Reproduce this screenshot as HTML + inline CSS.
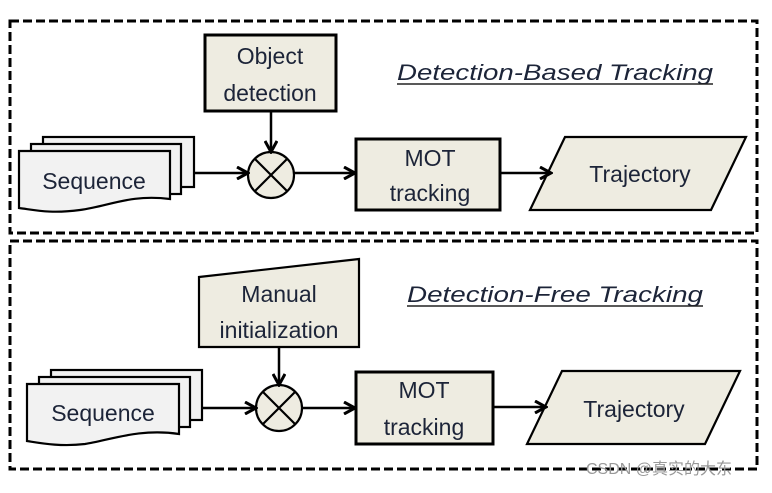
<!DOCTYPE html>
<html><head><style>
body{margin:0;background:#fff;width:772px;height:488px;overflow:hidden}
text{font-family:"Liberation Sans",sans-serif;fill:#1c2438}
</style></head><body>
<svg width="772" height="488" viewBox="0 0 772 488" xmlns="http://www.w3.org/2000/svg">
<defs>
<marker id="a" markerWidth="14" markerHeight="14" refX="11" refY="7" orient="auto" markerUnits="userSpaceOnUse">
<path d="M1,1 L12,7 L1,13" fill="none" stroke="#000" stroke-width="3"/>
</marker>
</defs>
<g fill="none" stroke="#000" stroke-width="3" stroke-dasharray="9,4">
<rect x="10" y="21" width="747" height="212"/>
<rect x="10" y="241" width="747" height="228"/>
</g>
<g stroke="#000" stroke-width="2.2">
<rect x="43" y="137" width="151" height="50" fill="#f2f2f2"/>
<rect x="31" y="144" width="150" height="50" fill="#f2f2f2"/>
<path d="M19,151 H170 V199 C130,194 110,206 80,210 C50,214 35,210 19,208 Z" fill="#f2f2f2"/>
<rect x="51" y="370" width="151" height="50" fill="#f2f2f2"/>
<rect x="39" y="377" width="151" height="50" fill="#f2f2f2"/>
<path d="M27,384 H179 V434 C140,428 110,440 85,444 C60,447 40,443 27,441 Z" fill="#f2f2f2"/>
<rect x="205" y="35" width="131" height="76" fill="#eeece1" stroke-width="3"/>
<rect x="356" y="139" width="144" height="71" fill="#eeece1" stroke-width="3"/>
<rect x="356" y="372" width="137" height="72" fill="#eeece1" stroke-width="3"/>
<path d="M199,277 L359,259 L359,347 L199,347 Z" fill="#eeece1"/>
<path d="M565,137 L746,137 L711,210 L530,210 Z" fill="#eeece1"/>
<path d="M562,371 L740,371 L705,444 L527,444 Z" fill="#eeece1"/>
<circle cx="271" cy="175" r="23" fill="#eeece1"/>
<path d="M255,159 L287,191 M287,159 L255,191"/>
<circle cx="279" cy="408" r="23" fill="#eeece1"/>
<path d="M263,392 L295,424 M295,392 L263,424"/>
</g>
<g stroke="#000" stroke-width="2.5" marker-end="url(#a)">
<line x1="194" y1="173" x2="247" y2="173"/>
<line x1="271" y1="111" x2="271" y2="151"/>
<line x1="294" y1="173" x2="354" y2="173"/>
<line x1="500" y1="173" x2="550" y2="173"/>
<line x1="202" y1="408" x2="255" y2="408"/>
<line x1="279" y1="347" x2="279" y2="384"/>
<line x1="302" y1="408" x2="354" y2="408"/>
<line x1="493" y1="407" x2="545" y2="407"/>
</g>
<g font-size="23" text-anchor="middle">
<text x="270" y="64">Object</text>
<text x="270" y="101">detection</text>
<text x="94" y="189">Sequence</text>
<text x="430" y="166">MOT</text>
<text x="430" y="201">tracking</text>
<text x="640" y="182">Trajectory</text>
<text x="279" y="302">Manual</text>
<text x="279" y="338">initialization</text>
<text x="103" y="421">Sequence</text>
<text x="424" y="398">MOT</text>
<text x="424" y="435">tracking</text>
<text x="634" y="417">Trajectory</text>
</g>
<g font-size="22" font-style="italic">
<text x="397" y="80" textLength="316" lengthAdjust="spacingAndGlyphs">Detection-Based Tracking</text>
<text x="407" y="302" textLength="296" lengthAdjust="spacingAndGlyphs">Detection-Free Tracking</text>
</g>
<line x1="397" y1="84" x2="713" y2="84" stroke="#222" stroke-width="1.5"/>
<line x1="407" y1="306" x2="703" y2="306" stroke="#222" stroke-width="1.5"/>
<text x="586" y="474" font-size="16" style="font-family:'Liberation Sans','Noto Sans CJK SC',sans-serif;fill:#999">CSDN @真实的大东</text>
</svg>
</body></html>
